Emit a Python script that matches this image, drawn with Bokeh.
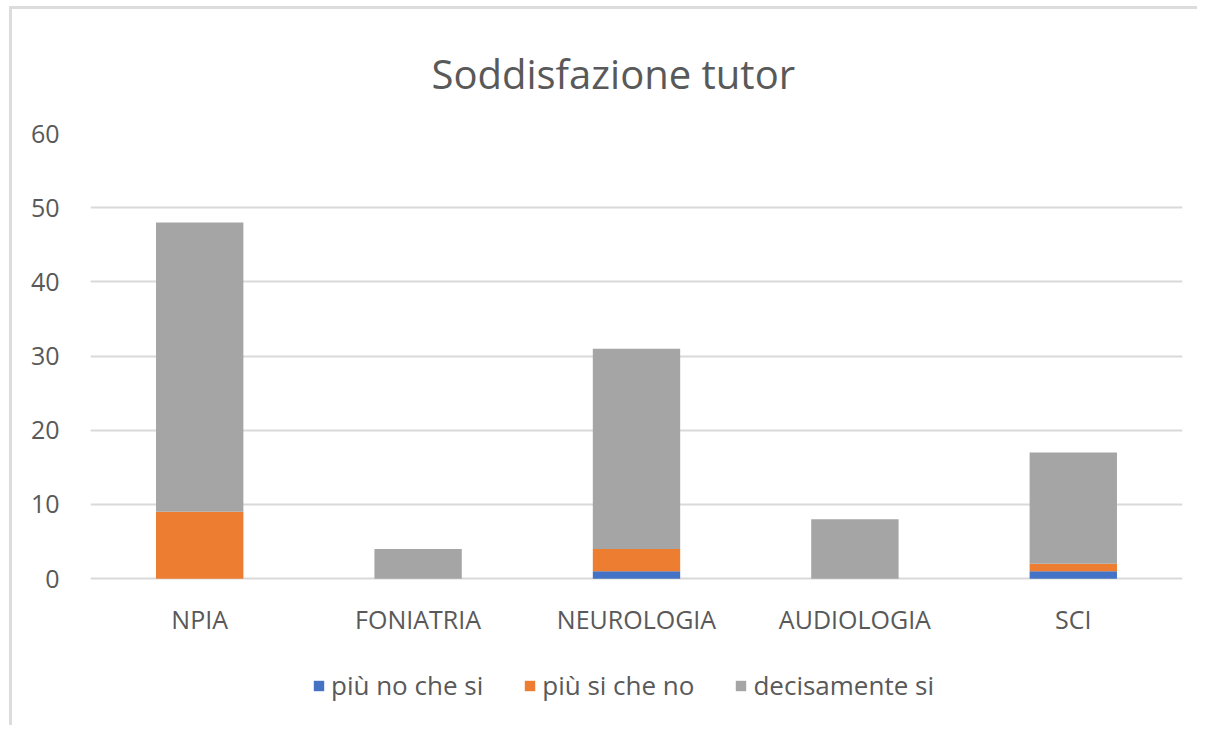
from bokeh.plotting import figure
from bokeh.models import FactorRange, Range1d, Legend, FixedTicker, ColumnDataSource
from bokeh.core.properties import value
from bokeh.embed import file_html
from bokeh.resources import INLINE

categories = ["NPIA", "FONIATRIA", "NEUROLOGIA", "AUDIOLOGIA", "SCI"]
piu_no_che_si = [0, 0, 1, 0, 1]
piu_si_che_no = [9, 0, 3, 0, 1]
decisamente_si = [39, 4, 27, 8, 15]
series_names = ["più no che si", "più si che no", "decisamente si"]
series_keys = ["s1", "s2", "s3"]
colors = ["#4472C4", "#ED7D31", "#A5A5A5"]
y_ticks = [0, 10, 20, 30, 40, 50, 60]

FONT = "Open Sans"
TXT = "#595959"

src = ColumnDataSource(dict(cat=categories, s1=piu_no_che_si, s2=piu_si_che_no, s3=decisamente_si))

# frame extended below zero so category labels and legend sit inside it
p = figure(x_range=FactorRange(*categories), y_range=Range1d(-20.2, 60),
           frame_width=1092, frame_height=595, output_backend="svg", toolbar_location=None,
           min_border_left=78, min_border_right=18, min_border_top=124, min_border_bottom=0)

p.title.text = "Soddisfazione tutor"
p.title.align = "left"
p.title.text_font = FONT
p.title.text_font_size = "40px"
p.title.text_font_style = "normal"
p.title.text_color = TXT
p.title.offset = 341
p.title.standoff = 66

r = p.vbar_stack(series_keys, x="cat", width=0.4, source=src, color=colors, line_color=None)

p.text(x="cat", y=-5.4, text="cat", source=src, text_font=value(FONT), text_font_size="25px",
       text_color=TXT, text_align="center", text_baseline="middle")

legend = Legend(items=[(n, [g]) for n, g in zip(series_names, r)], orientation="horizontal",
                location=(222, 25), border_line_color=None, background_fill_alpha=0,
                label_text_font=FONT, label_text_font_size="26px", label_text_color=TXT,
                glyph_width=13, glyph_height=13, spacing=40, label_standoff=6,
                padding=0, margin=0)
p.add_layout(legend, "center")

p.outline_line_color = None
p.xaxis.visible = False
p.xgrid.grid_line_color = None
p.ygrid.grid_line_color = "#D9D9D9"
p.ygrid.grid_line_width = 2
p.yaxis.ticker = FixedTicker(ticks=y_ticks)
p.yaxis.axis_line_color = None
p.yaxis.major_tick_line_color = None
p.yaxis.minor_tick_line_color = None
p.yaxis.major_label_text_font = FONT
p.yaxis.major_label_text_font_size = "25px"
p.yaxis.major_label_text_color = TXT
p.yaxis.major_label_standoff = 25
p.styles = {"margin-left": "12px", "margin-top": "9px",
            "box-shadow": "-3px -3px 0 0 #DCDCDC"}

open("out.html", "w").write(file_html(p, INLINE))
